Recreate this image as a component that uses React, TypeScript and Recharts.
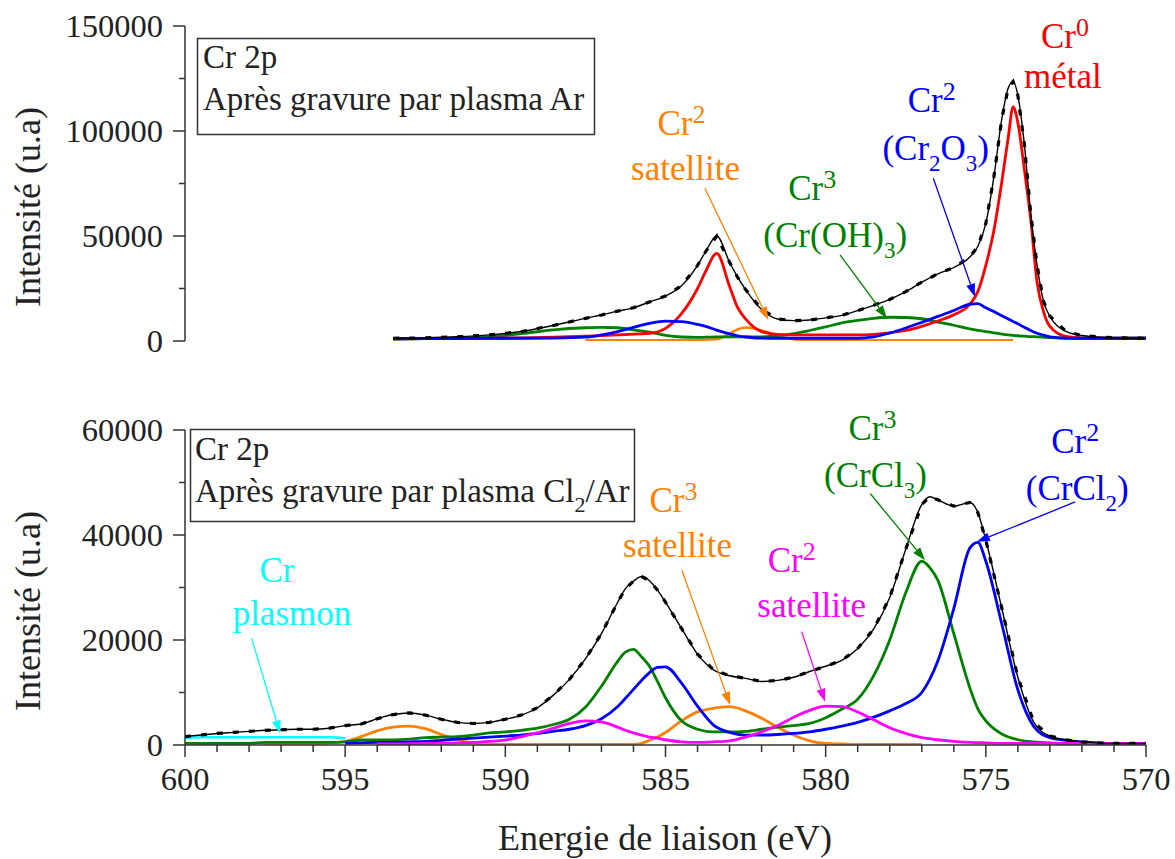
import { Line, LineChart, ReferenceDot, ReferenceLine, XAxis, YAxis } from 'recharts'

const SERIF = 'Liberation Serif, Times New Roman, DejaVu Serif, serif'
const AXIS = '#333'
const serif = { fontFamily: SERIF }

// Cr 2p, after Ar plasma (binding energy in eV, intensity in a.u.)
const topEnergy = [593.5, 592.5, 591.5, 590.5, 589.5, 588.5, 587.5, 587, 586.5, 586, 585.5, 585, 584.5, 584, 583.75, 583.4, 583, 582.75, 582.5, 582, 581.5, 581, 580.5, 580, 579.5, 579, 578.5, 578, 577.5, 577, 576.5, 576, 575.5, 575.25, 575, 574.75, 574.5, 574.3, 574.15, 574, 573.8, 573.6, 573.4, 573.2, 573, 572.5, 572, 571, 570]
const topEnvelope = [1300, 1500, 2000, 2900, 4500, 7400, 10800, 12400, 14200, 15800, 18600, 21400, 26300, 36000, 42500, 50000, 37500, 30400, 24500, 15000, 10500, 9700, 10000, 11000, 12200, 14500, 17000, 19800, 23500, 28000, 32000, 35000, 40000, 45000, 56000, 78000, 106000, 120500, 123500, 117000, 94000, 61000, 36000, 19000, 11800, 4600, 2600, 1500, 1300]
const topMetal = [1000, 1200, 1200, 1300, 1500, 1800, 2300, 2600, 2900, 3300, 3600, 6000, 13000, 25000, 33000, 41700, 26000, 16000, 10500, 4500, 3200, 2900, 2900, 2900, 2900, 2900, 3200, 3900, 5000, 7000, 9500, 12500, 17500, 23500, 36000, 52500, 76000, 97000, 111500, 104000, 82000, 58000, 28000, 14000, 7000, 2200, 1500, 1300, 1300]
const topCr2O3 = [1000, 1100, 1200, 1300, 1300, 1400, 1800, 2900, 4500, 6500, 8400, 9500, 9200, 7900, 7000, 5200, 3400, 2500, 1900, 1400, 1300, 1300, 1300, 1300, 1300, 1300, 2000, 3800, 6200, 8900, 11700, 14500, 17500, 17800, 15800, 14000, 12000, 10500, 9300, 8200, 6500, 5000, 3700, 2800, 2000, 1400, 1300, 1300, 1300]
const topCrOH3 = [900, 1100, 1300, 2000, 3500, 5300, 6300, 6500, 6300, 5300, 4200, 2700, 1900, 1700, 1800, 2000, 2000, 2000, 2000, 2000, 2600, 3500, 5000, 6700, 8600, 9800, 10800, 11300, 11200, 10600, 9000, 7500, 5800, 5100, 4500, 3900, 3300, 2900, 2700, 2500, 2300, 2100, 2000, 1800, 1600, 1300, 1300, 1300, 1300]
const topSatellite = [null, null, null, null, null, null, 300, 300, 300, 300, 300, 300, 350, 500, 650, 800, 3500, 5500, 6400, 5000, 2600, 800, 300,
  300, 300, 300, 300, 300, 300, 300, 300, 300, 300, 300, 300, 300, 300, 300, 300,
  null, null, null, null, null, null, null, null, null, null]

// Cr 2p, after Cl2/Ar plasma
const botEnergy = [600, 599.5, 599, 598.5, 598, 597.5, 597, 596.5, 596, 595.5, 595, 594.5, 594, 593.5, 593, 592.5, 592, 591.5, 591, 590.5, 590, 589.5, 589, 588.5, 588, 587.5, 587, 586.5, 586.25, 586, 585.75, 585.5, 585.25, 585, 584.5, 584, 583.5, 583, 582.5, 582, 581.5, 581, 580.5, 580, 579.5, 579, 578.5, 578, 577.5, 577, 576.75, 576.5, 576, 575.5, 575.25, 575, 574.5, 574, 573.5, 573, 572.5, 572, 571.5, 571, 570.5, 570]
const botEnvelope = [1600, 1900, 2200, 2400, 2600, 2800, 2900, 3000, 3000, 3200, 3700, 4000, 5000, 5800, 6100, 5700, 4900, 4300, 4100, 4300, 4900, 5700, 7100, 9500, 12500, 16400, 21200, 27100, 29800, 31200, 32100, 31300, 29500, 27200, 22200, 17300, 14300, 13200, 12700, 12100, 12300, 12900, 14000, 15000, 16100, 18400, 22100, 28100, 37300, 45800, 47300, 46700, 45500, 46200, 44300, 39000, 26000, 12900, 4300, 1700, 1000, 600, 400, 300, 300, 300]
const botCrCl3 = [300, 300, 300, 300, 300, 500, 500, 500, 500, 500, 600, 950, 950, 950, 1100, 1400, 1500, 1600, 1900, 2300, 2500, 2800, 3200, 3900, 4900, 7200, 11200, 15900, 17700, 18200, 16800, 15000, 12100, 9000, 4600, 3000, 2500, 2500, 2600, 3000, 3400, 3700, 4100, 5200, 6800, 8700, 13200, 20000, 29000, 35000, 33800, 31400, 21200, 10900, 6900, 4600, 2100, 1000, 600, 400, 300, 300, 300, 300, 300, 300]
const botCrCl2 = [null, null, null, null, null, null, null, null, null, null, 300, 400, 500, 500, 600, 700, 900, 1100, 1300, 1500, 1700, 1900, 2200, 2600, 3000, 3700, 5000, 7300, 8900, 10600, 12300, 13800, 14800, 14900, 11800, 7400, 3800, 2400, 1900, 1900, 2000, 2200, 2500, 3000, 3600, 4300, 5300, 6500, 7900, 10000, 12500, 16000, 26000, 37500, 38600, 35000, 23000, 10500, 3500, 1400, 900, 600, 400, 300, 300, 300]
const botSat3 = [null, null, null, null, null, 300, 300, 300, 300, 400, 700, 1600, 2700, 3400, 3600, 3100, 2000, 1000, 400, 200, 100, 100, 100, 100, 100, 100, 100, 100, 100, 100, 300, 900, 1500, 2400, 4600, 6300, 7000, 7300, 6500, 5100, 3400, 1900, 800, 300, 200, 100, 100, 100, 100, 100,
  null, null, null, null, null, null, null, null, null, null, null, null, null, null, null, null]
const botSat2 = [null, null, null, null, null, null, null, null, null, null, null, null, 200, 200, 250, 300, 300, 400, 500, 700, 950, 1600, 2300, 3200, 4100, 4600, 4400, 3400, 2800, 2300, 1900, 1500, 1300, 1000, 600, 500, 600, 800, 1500, 2500, 3700, 5300, 6600, 7400, 7300, 6300, 4800, 3300, 2200, 1400, 1200, 1000, 700, 500, 450, 400, 300, 300, 300, 300, 300, 300, 300, 300, 300, 300]
const botPlasmon = [1400, 1500, 1500, 1500, 1500, 1500, 1500, 1500, 1500, 1500, 1300]

const xTicks = [600, 599, 598, 597, 596, 595, 594, 593, 592, 591, 590, 589, 588, 587, 586, 585, 584, 583, 582, 581, 580, 579, 578, 577, 576, 575, 574, 573, 572, 571, 570]
const xMajor = [600, 595, 590, 585, 580, 575, 570]
const topYTicks = [0, 25000, 50000, 75000, 100000, 125000, 150000]
const topYMajor = [0, 50000, 100000, 150000]
const botYTicks = [0, 10000, 20000, 30000, 40000, 50000, 60000]
const botYMajor = [0, 20000, 40000, 60000]

const topRows = topEnergy.map((e, i) => ({
  e,
  env: topEnvelope[i],
  metal: topMetal[i],
  cr2o3: topCr2O3[i],
  croh3: topCrOH3[i],
  sat: topSatellite[i],
}))

const botRows = botEnergy.map((e, i) => ({
  e,
  env: botEnvelope[i],
  crcl3: botCrCl3[i],
  crcl2: botCrCl2[i],
  sat3: botSat3[i],
  sat2: botSat2[i],
  plasmon: botPlasmon[i] ?? null,
}))

type Seg = { t: string; sup?: boolean; sub?: boolean }
type TagLine = { segs: Seg[]; dx: number; dy: number }
type Tag = { e: number; v: number; color: string; lines: TagLine[] }
type Arrow = { from: [number, number]; to: [number, number]; color: string }

const RED = '#ff0000'
const BLUE = '#0000ff'
const GREEN = '#008000'
const ORANGE = '#ff8000'
const MAGENTA = '#ff00ff'
const CYAN = '#00ffff'

const topTags: Tag[] = [
  { e: 572.53, v: 139500, color: RED, lines: [{ segs: [{ t: 'Cr' }, { t: '0', sup: true }], dx: 0, dy: 0 }, { segs: [{ t: 'métal' }], dx: -2, dy: 40 }] },
  { e: 576.69, v: 109000, color: BLUE, lines: [{ segs: [{ t: 'Cr' }, { t: '2', sup: true }], dx: 0, dy: 0 }, { segs: [{ t: '(Cr' }, { t: '2', sub: true }, { t: 'O' }, { t: '3', sub: true }, { t: ')' }], dx: 4, dy: 48 }] },
  { e: 580.42, v: 67100, color: GREEN, lines: [{ segs: [{ t: 'Cr' }, { t: '3', sup: true }], dx: 0, dy: 0 }, { segs: [{ t: '(Cr(OH)' }, { t: '3', sub: true }, { t: ')' }], dx: 23, dy: 47 }] },
  { e: 584.5, v: 98100, color: ORANGE, lines: [{ segs: [{ t: 'Cr' }, { t: '2', sup: true }], dx: 0, dy: 0 }, { segs: [{ t: 'satellite' }], dx: 4, dy: 45 }] },
]

const topArrows: Arrow[] = [
  { from: [583.77, 72700], to: [581.79, 10000], color: ORANGE },
  { from: [579.55, 41000], to: [578.09, 10800], color: GREEN },
  { from: [576.64, 77500], to: [575.34, 21100], color: BLUE },
]

const botTags: Tag[] = [
  { e: 597.13, v: 31100, color: CYAN, lines: [{ segs: [{ t: 'Cr' }], dx: 0, dy: 0 }, { segs: [{ t: 'plasmon' }], dx: 15, dy: 43 }] },
  { e: 584.75, v: 44400, color: ORANGE, lines: [{ segs: [{ t: 'Cr' }, { t: '3', sup: true }], dx: 0, dy: 0 }, { segs: [{ t: 'satellite' }], dx: 4, dy: 45 }] },
  { e: 581.06, v: 33000, color: MAGENTA, lines: [{ segs: [{ t: 'Cr' }, { t: '2', sup: true }], dx: 0, dy: 0 }, { segs: [{ t: 'satellite' }], dx: 20, dy: 45 }] },
  { e: 578.54, v: 58100, color: GREEN, lines: [{ segs: [{ t: 'Cr' }, { t: '3', sup: true }], dx: 0, dy: 0 }, { segs: [{ t: '(CrCl' }, { t: '3', sub: true }, { t: ')' }], dx: 3, dy: 47 }] },
  { e: 572.21, v: 55600, color: BLUE, lines: [{ segs: [{ t: 'Cr' }, { t: '2', sup: true }], dx: 0, dy: 0 }, { segs: [{ t: '(CrCl' }, { t: '2', sub: true }, { t: ')' }], dx: 2, dy: 47 }] },
]

const botArrows: Arrow[] = [
  { from: [597.92, 20300], to: [597.03, 2200], color: CYAN },
  { from: [584.49, 33300], to: [582.98, 7600], color: ORANGE },
  { from: [580.75, 21600], to: [580.02, 8250], color: MAGENTA },
  { from: [578.61, 47900], to: [576.9, 35200], color: GREEN },
  { from: [572.21, 46300], to: [575.28, 38700], color: BLUE },
]

const TICK = 12
const GAP = 10

function yTick(majors: number[]) {
  return (p: any) => {
    const v = p.payload.value
    const major = majors.includes(v)
    const ax = p.x + GAP + TICK
    return (
      <g>
        <line x1={ax - (major ? TICK : 6)} x2={ax} y1={p.y} y2={p.y} stroke={AXIS} strokeWidth={1.5} />
        {major && (
          <text x={p.x} y={p.y} dy="0.35em" textAnchor="end" style={serif} fontSize={32.5} fill="#222">
            {v}
          </text>
        )}
      </g>
    )
  }
}

function xTick(p: any) {
  const v = p.payload.value
  const major = xMajor.includes(v)
  const ay = p.y - GAP - TICK
  return (
    <g>
      <line x1={p.x} x2={p.x} y1={ay} y2={ay + (major ? TICK : 7)} stroke={AXIS} strokeWidth={1.5} />
      {major && (
        <text x={p.x} y={p.y} dy="0.71em" textAnchor="middle" style={serif} fontSize={32.5} fill="#222">
          {v}
        </text>
      )}
    </g>
  )
}

function renderSegs(segs: Seg[]) {
  let shift = 0
  return segs.map((s, i) => {
    const target = s.sup ? -12 : s.sub ? 11 : 0
    const d = target - shift
    shift = target
    return (
      <tspan key={i} dy={d} fontSize={s.sup ? 26 : s.sub ? 23 : undefined}>
        {s.t}
      </tspan>
    )
  })
}

function tagShape(tag: Tag) {
  return (p: any) => (
    <g>
      {tag.lines.map((l, i) => (
        <text key={i} x={p.cx + l.dx} y={p.cy + l.dy} textAnchor="middle" style={serif} fontSize={35} fill={tag.color}>
          {renderSegs(l.segs)}
        </text>
      ))}
    </g>
  )
}

function arrowShape(color: string) {
  return (p: any) => {
    const { x1, y1, x2, y2 } = p
    const a = Math.atan2(y2 - y1, x2 - x1)
    const L = 13
    const W = 4.5
    const bx = x2 - L * Math.cos(a)
    const by = y2 - L * Math.sin(a)
    const pts = `${x2},${y2} ${bx - W * Math.sin(a)},${by + W * Math.cos(a)} ${bx + W * Math.sin(a)},${by - W * Math.cos(a)}`
    return (
      <g>
        <line x1={x1} y1={y1} x2={bx} y2={by} stroke={color} strokeWidth={1.3} />
        <polygon points={pts} fill={color} />
      </g>
    )
  }
}

const lineProps = { dot: false, isAnimationActive: false, type: 'monotone' as const, activeDot: false }

export default function App() {
  return (
    <div style={{ position: 'absolute', left: 0, top: 0, width: 1175, height: 859, background: '#fff', fontFamily: SERIF }}>
      <div style={{ position: 'absolute', left: 0, top: 0 }}>
        <LineChart width={1175} height={360} data={topRows} margin={{ top: 26, right: 29, bottom: 19, left: 0 }}>
          <XAxis type="number" dataKey="e" domain={[570, 600]} reversed hide allowDataOverflow />
          <YAxis
            type="number"
            domain={[0, 150000]}
            ticks={topYTicks}
            interval={0}
            width={185}
            tickSize={TICK}
            tickMargin={GAP}
            tickLine={false}
            tick={yTick(topYMajor)}
            axisLine={{ stroke: AXIS, strokeWidth: 1.5 }}
            allowDataOverflow
          />
          <Line {...lineProps} dataKey="sat" stroke={ORANGE} strokeWidth={2.5} />
          <Line {...lineProps} dataKey="croh3" stroke={GREEN} strokeWidth={2.8} />
          <Line {...lineProps} dataKey="metal" stroke={RED} strokeWidth={2.8} />
          <Line {...lineProps} dataKey="cr2o3" stroke={BLUE} strokeWidth={2.8} />
          <Line {...lineProps} dataKey="env" stroke="#000" strokeWidth={1.4} />
          <Line {...lineProps} type="linear" dataKey="env" stroke="#000" strokeWidth={3.2} strokeDasharray="6 10" />
          {topArrows.map((a, i) => (
            <ReferenceLine
              key={`ta${i}`}
              segment={[{ x: a.from[0], y: a.from[1] }, { x: a.to[0], y: a.to[1] }]}
              shape={arrowShape(a.color)}
            />
          ))}
          {topTags.map((t, i) => (
            <ReferenceDot key={`tt${i}`} x={t.e} y={t.v} r={1} ifOverflow="visible" shape={tagShape(t)} />
          ))}
        </LineChart>
      </div>

      <div style={{ position: 'absolute', left: 0, top: 380 }}>
        <LineChart width={1175} height={479} data={botRows} margin={{ top: 50, right: 29, bottom: 0, left: 0 }}>
          <XAxis
            type="number"
            dataKey="e"
            domain={[570, 600]}
            reversed
            ticks={xTicks}
            interval={0}
            height={114}
            tickSize={TICK}
            tickMargin={GAP}
            tickLine={false}
            tick={xTick}
            axisLine={{ stroke: AXIS, strokeWidth: 1.5 }}
            allowDataOverflow
          />
          <YAxis
            type="number"
            domain={[0, 60000]}
            ticks={botYTicks}
            interval={0}
            width={185}
            tickSize={TICK}
            tickMargin={GAP}
            tickLine={false}
            tick={yTick(botYMajor)}
            axisLine={{ stroke: AXIS, strokeWidth: 1.5 }}
            allowDataOverflow
          />
          <Line {...lineProps} dataKey="plasmon" stroke={CYAN} strokeWidth={2.5} />
          <Line {...lineProps} dataKey="sat3" stroke={ORANGE} strokeWidth={2.8} />
          <Line {...lineProps} dataKey="crcl3" stroke={GREEN} strokeWidth={2.8} />
          <Line {...lineProps} dataKey="crcl2" stroke={BLUE} strokeWidth={2.8} />
          <Line {...lineProps} dataKey="sat2" stroke={MAGENTA} strokeWidth={2.8} />
          <Line {...lineProps} dataKey="env" stroke="#000" strokeWidth={1.4} />
          <Line {...lineProps} type="linear" dataKey="env" stroke="#000" strokeWidth={3.2} strokeDasharray="6 10" />
          {botArrows.map((a, i) => (
            <ReferenceLine
              key={`ba${i}`}
              segment={[{ x: a.from[0], y: a.from[1] }, { x: a.to[0], y: a.to[1] }]}
              shape={arrowShape(a.color)}
            />
          ))}
          {botTags.map((t, i) => (
            <ReferenceDot key={`bt${i}`} x={t.e} y={t.v} r={1} ifOverflow="visible" shape={tagShape(t)} />
          ))}
        </LineChart>
      </div>

      <svg width={1175} height={859} style={{ position: 'absolute', left: 0, top: 0, pointerEvents: 'none', fontFamily: SERIF }}>
        <rect x={197.5} y={38.5} width={397} height={96} fill="none" stroke={AXIS} strokeWidth={1.5} />
        <text x={203} y={68} fontSize={33} fill="#222" style={serif}>Cr 2p</text>
        <text x={203} y={110} fontSize={33} fill="#222" style={serif}>Après gravure par plasma Ar</text>

        <rect x={190.5} y={429.5} width={444} height={92} fill="none" stroke={AXIS} strokeWidth={1.5} />
        <text x={195} y={460} fontSize={33} fill="#222" style={serif}>Cr 2p</text>
        <text x={195} y={502} fontSize={33} fill="#222" style={serif}>
          Après gravure par plasma Cl<tspan dy={10} fontSize={22}>2</tspan>
          <tspan dy={-10}>/Ar</tspan>
        </text>

        <text transform="translate(40,207) rotate(-90)" textAnchor="middle" fontSize={36} fill="#222" style={serif}>Intensité (u.a)</text>
        <text transform="translate(40,611) rotate(-90)" textAnchor="middle" fontSize={36} fill="#222" style={serif}>Intensité (u.a)</text>
        <text x={665} y={850} textAnchor="middle" fontSize={36} fill="#222" style={serif}>Energie de liaison (eV)</text>
      </svg>
    </div>
  )
}
